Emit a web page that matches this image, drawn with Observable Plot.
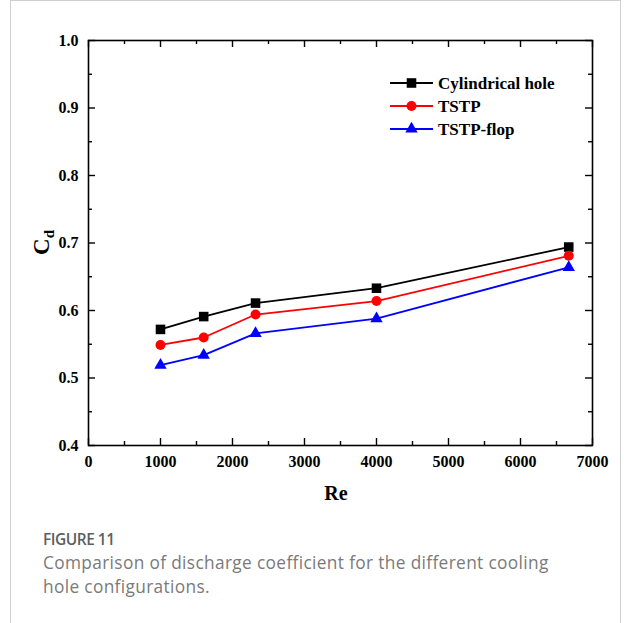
<!DOCTYPE html>
<html>
<head>
<meta charset="utf-8">
<script src="https://cdn.jsdelivr.net/npm/d3@7"></script>
<script src="https://cdn.jsdelivr.net/npm/@observablehq/plot@0.6"></script>
<style>
  html, body { margin: 0; padding: 0; background: #fff; }
  #page { position: relative; width: 624px; height: 623px; overflow: hidden; }
  #border { position: absolute; left: 10px; top: 0px; width: 611px; height: 660px; border: 1px solid #cfcfcf; box-sizing: border-box; }
  #chart { position: absolute; left: 0; top: 0; }
  #caption { position: absolute; left: 43px; top: 527px; width: 570px; font-family: "Open Sans", sans-serif; color: #7a7a7a; white-space: nowrap; }
  #caption .fig { font-size: 15.5px; font-weight: 600; color: #5e5e5e; line-height: 24px; letter-spacing: -0.5px; }
  #caption .txt { font-size: 17.3px; line-height: 24px; letter-spacing: 0.35px; }
</style>
</head>
<body>
<div id="page">
  <div id="border"></div>
  <div id="chart"></div>
  <div id="caption">
    <div class="fig">FIGURE 11</div>
    <div class="txt">Comparison of discharge coefficient for the different cooling<br>hole configurations.</div>
  </div>
</div>
<script>
// ---- data ----
const re = [1000, 1600, 2320, 4000, 6670];
const cylindrical = [0.572, 0.591, 0.611, 0.633, 0.694];
const tstp = [0.549, 0.560, 0.594, 0.614, 0.681];
const tstpFlop = [0.519, 0.534, 0.566, 0.588, 0.664];
const seriesNames = ["Cylindrical hole", "TSTP", "TSTP-flop"];
const seriesColors = ["#000000", "#ff0000", "#0000ff"];
const seriesSymbols = ["square", "circle", "triangle"];
const xMajor = [0, 1000, 2000, 3000, 4000, 5000, 6000, 7000];
const xMinor = [500, 1500, 2500, 3500, 4500, 5500, 6500];
const yMajor = [0.4, 0.5, 0.6, 0.7, 0.8, 0.9, 1.0];
const yMinor = [0.45, 0.55, 0.65, 0.75, 0.85, 0.95];

const seriesValues = [cylindrical, tstp, tstpFlop];
const rows = seriesNames.flatMap((name, i) => re.map((x, j) => ({series: name, idx: i, re: x, cd: seriesValues[i][j]})));

const W = 624, H = 515;
const mL = 88, mR = 32, mT = 40, mB = 70;
const fw = W - mL - mR, fh = H - mT - mB;
const majorLen = 7, minorLen = 4;

const tickFont = {fontFamily: "'Liberation Serif', 'Times New Roman', serif", fontWeight: "bold", fontSize: "16px", color: "#000"};

const marks = [];
// ticks inward on all four sides
marks.push(Plot.tickX(xMajor, {x: d => d, insetTop: fh - majorLen, stroke: "#000", strokeWidth: 1.4}));
marks.push(Plot.tickX(xMinor, {x: d => d, insetTop: fh - minorLen, stroke: "#000", strokeWidth: 1.4}));
marks.push(Plot.tickX(xMajor, {x: d => d, insetBottom: fh - majorLen, stroke: "#000", strokeWidth: 1.4}));
marks.push(Plot.tickX(xMinor, {x: d => d, insetBottom: fh - minorLen, stroke: "#000", strokeWidth: 1.4}));
marks.push(Plot.tickY(yMajor, {y: d => d, insetRight: fw - majorLen, stroke: "#000", strokeWidth: 1.4}));
marks.push(Plot.tickY(yMinor, {y: d => d, insetRight: fw - minorLen, stroke: "#000", strokeWidth: 1.4}));
marks.push(Plot.tickY(yMajor, {y: d => d, insetLeft: fw - majorLen, stroke: "#000", strokeWidth: 1.4}));
marks.push(Plot.tickY(yMinor, {y: d => d, insetLeft: fw - minorLen, stroke: "#000", strokeWidth: 1.4}));
marks.push(Plot.frame({stroke: "#000", strokeWidth: 1.6}));
marks.push(Plot.axisX({ticks: xMajor, tickSize: 0, tickPadding: 10, tickFormat: d => String(d), label: null}));
marks.push(Plot.axisY({ticks: yMajor, tickSize: 0, tickPadding: 10, tickFormat: d3.format(".1f"), label: null}));

seriesNames.forEach((name, i) => {
  const data = rows.filter(r => r.idx === i);
  marks.push(Plot.line(data, {x: "re", y: "cd", stroke: seriesColors[i], strokeWidth: 1.8}));
});
seriesNames.forEach((name, i) => {
  const data = rows.filter(r => r.idx === i);
  const r = i === 0 ? 5.4 : i === 1 ? 5 : 4.6;
  marks.push(Plot.dot(data, {x: "re", y: "cd", symbol: () => seriesSymbols[i], fill: seriesColors[i], stroke: "none", r}));
});

const chart = Plot.plot({
  width: W, height: H,
  marginLeft: mL, marginRight: mR, marginTop: mT, marginBottom: mB,
  x: {domain: [0, 7000]},
  y: {domain: [0.4, 1.0]},
  style: tickFont,
  marks
});
document.getElementById("chart").appendChild(chart);

const svg = d3.select(chart);
// axis titles
svg.append("text")
  .attr("x", mL + fw / 2 - 4).attr("y", 500)
  .attr("text-anchor", "middle")
  .attr("font-family", "'Liberation Serif', serif").attr("font-weight", "bold").attr("font-size", 20)
  .attr("fill", "#000")
  .text("Re");
const yl = svg.append("text")
  .attr("transform", `translate(49, ${mT + fh / 2}) rotate(-90)`)
  .attr("text-anchor", "middle")
  .attr("font-family", "'Liberation Serif', serif").attr("font-weight", "bold").attr("font-size", 23)
  .attr("fill", "#000");
yl.append("tspan").text("C");
yl.append("tspan").attr("font-size", 15).attr("dy", 5).text("d");

// legend
const lg = svg.append("g").attr("transform", "translate(390, 83)");
seriesNames.forEach((name, i) => {
  const g = lg.append("g").attr("transform", `translate(0, ${i * 23})`);
  g.append("line").attr("x1", 0).attr("x2", 43).attr("y1", 0).attr("y2", 0)
    .attr("stroke", seriesColors[i]).attr("stroke-width", 1.8);
  const sym = {square: d3.symbolSquare, circle: d3.symbolCircle, triangle: d3.symbolTriangle}[seriesSymbols[i]];
  const rr = i === 0 ? 5.4 : i === 1 ? 5 : 4.6;
  g.append("path").attr("transform", "translate(21.5, 0)")
    .attr("d", d3.symbol(sym, Math.PI * rr * rr)())
    .attr("fill", seriesColors[i]);
  g.append("text").attr("x", 48).attr("y", 0).attr("dy", "0.35em")
    .attr("text-anchor", "start")
    .attr("font-family", "'Liberation Serif', serif").attr("font-weight", "bold").attr("font-size", 17)
    .attr("fill", "#000")
    .text(name);
});
</script>
</body>
</html>
